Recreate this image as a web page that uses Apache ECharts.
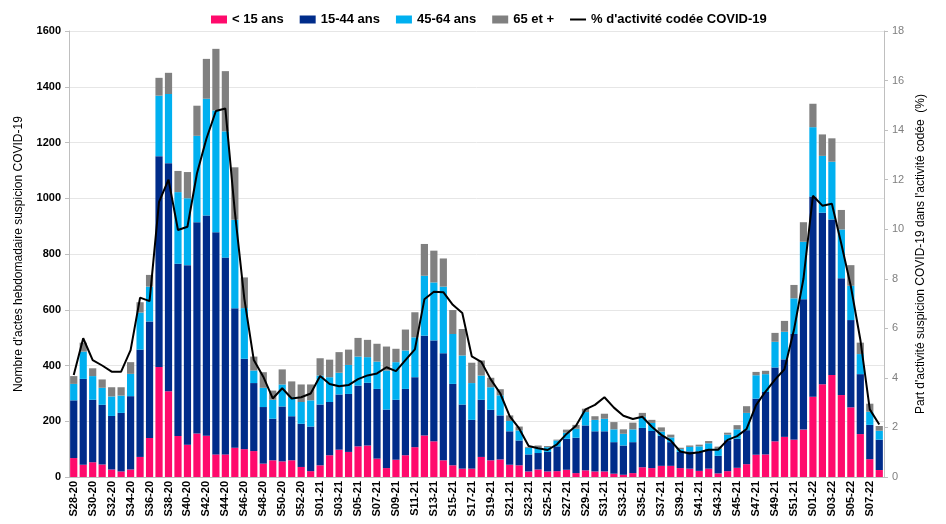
<!DOCTYPE html>
<html><head><meta charset="utf-8">
<script src="https://cdn.jsdelivr.net/npm/echarts@6/dist/echarts.min.js"></script>
<style>html,body{margin:0;padding:0;background:#fff}#c{width:946px;height:524px}</style>
</head><body><div id="c"></div>
<script>
const categories = [
 'S28-20','S29-20','S30-20','S31-20','S32-20','S33-20','S34-20','S35-20','S36-20','S37-20','S38-20','S39-20','S40-20','S41-20','S42-20','S43-20','S44-20','S45-20','S46-20','S47-20','S48-20','S49-20','S50-20','S51-20','S52-20','S53-20',
 'S01-21','S02-21','S03-21','S04-21','S05-21','S06-21','S07-21','S08-21','S09-21','S10-21','S11-21','S12-21','S13-21','S14-21','S15-21','S16-21','S17-21','S18-21','S19-21','S20-21','S21-21','S22-21','S23-21','S24-21','S25-21','S26-21',
 'S27-21','S28-21','S29-21','S30-21','S31-21','S32-21','S33-21','S34-21','S35-21','S36-21','S37-21','S38-21','S39-21','S40-21','S41-21','S42-21','S43-21','S44-21','S45-21','S46-21','S47-21','S48-21','S49-21','S50-21','S51-21','S52-21',
 'S01-22','S02-22','S03-22','S04-22','S05-22','S06-22','S07-22','S08-22'
];
const moins15 = [68,44,53,45,27,20,27,72,140,395,308,147,116,156,148,81,81,105,100,93,48,60,56,60,36,21,
 42,78,98,90,110,113,66,32,62,78,107,149,128,60,42,30,30,72,60,63,44,42,20,27,20,21,26,14,24,20,20,12,8,14,35,32,40,40,32,30,22,30,13,21,33,46,80,81,128,144,134,170,
 288,333,366,294,250,154,64,25];
const de15a44 = [207,308,224,214,192,210,263,385,418,756,818,618,644,758,790,797,706,500,324,244,203,149,197,158,155,160,
 218,191,198,208,218,225,250,210,215,238,251,358,362,384,292,230,175,205,181,158,120,89,61,59,70,89,111,127,161,144,144,113,105,111,141,133,108,85,58,62,70,70,63,111,104,122,201,224,265,278,379,468,
 718,615,558,419,313,215,123,109];
const de45a64 = [59,98,85,61,70,62,80,133,125,217,248,257,240,310,419,437,453,318,182,45,69,68,79,69,78,94,
 104,89,78,104,104,92,98,140,135,138,143,215,208,239,179,176,132,87,81,72,37,36,24,19,17,21,22,32,48,41,45,46,42,46,40,29,15,17,10,16,18,21,25,20,34,62,84,64,92,99,128,206,
 249,204,207,175,123,72,47,32];
const plus65 = [28,32,28,30,33,30,42,37,42,64,76,76,94,108,143,221,216,188,110,50,56,33,54,56,63,57,
 62,63,74,55,67,62,64,86,48,75,90,114,114,101,86,95,73,54,34,22,20,14,3,8,4,3,11,14,12,13,18,26,16,24,14,11,15,10,5,5,6,8,8,7,15,24,12,12,32,39,48,70,
 84,77,84,70,74,41,29,17];
const pctCovid = [4.12,5.6,4.72,4.5,4.25,4.25,5.12,7.24,7.1,11.1,12.0,9.97,10.1,12.25,13.65,14.77,14.87,10.7,7.2,4.72,4.05,3.17,3.58,3.17,3.22,3.37,
 4.08,3.75,3.66,3.71,3.95,4.1,4.18,4.43,4.27,4.72,5.15,7.17,7.48,7.46,6.95,6.62,4.87,4.65,3.94,3.38,2.46,1.96,1.25,1.16,1.09,1.32,1.74,2.07,2.73,2.91,3.22,2.8,2.47,2.34,2.43,2.03,1.7,1.47,1.03,0.95,1.0,1.1,1.1,1.5,1.65,1.94,2.9,3.45,3.93,4.35,5.94,8.0,
 11.35,10.95,11.03,9.4,7.7,5.55,2.73,2.12];
const leftTicks = {min:0, max:1600, interval:200};
const rightTicks = {min:0, max:18, interval:2};

const FONT = '"Liberation Sans", Arial, sans-serif';
const colors = ['#FF0A6C','#002C8A','#00B0F0','#808080'];
const names = ['< 15 ans','15-44 ans','45-64 ans','65 et +'];
const barData = [moins15, de15a44, de45a64, plus65];

const chart = echarts.init(document.getElementById('c'), null, {renderer:'canvas'});
const series = barData.map((d,i)=>({
  name: names[i], type:'bar', stack:'total', data:d, barCategoryGap:'24%',
  itemStyle:{color:colors[i]}, emphasis:{disabled:true}, animation:false
}));
series.push({
  name:"% d'activité codée COVID-19", type:'line', yAxisIndex:1, data:pctCovid,
  symbol:'none', lineStyle:{color:'#000', width:2}, itemStyle:{color:'#000'}, animation:false, z:5
});
chart.setOption({
  animation:false,
  textStyle:{fontFamily:FONT},
  legend:{
    top:8, left:206, itemGap:16, itemWidth:16, itemHeight:8,
    textStyle:{fontFamily:FONT, fontSize:13, fontWeight:'bold', color:'#000'},
    data:[
      {name:names[0], icon:'rect'},{name:names[1], icon:'rect'},{name:names[2], icon:'rect'},{name:names[3], icon:'rect'},
      {name:"% d'activité codée COVID-19", icon:'path://M0,0 L20,0 L20,2.5 L0,2.5 Z'}
    ]
  },
  grid:{left:69, right:62, top:31, bottom:47},
  xAxis:{
    type:'category', data:categories, boundaryGap:true,
    axisLine:{lineStyle:{color:'#bfbfbf'}}, axisTick:{show:false},
    axisLabel:{interval:1, rotate:90, fontFamily:FONT, fontSize:11, fontWeight:'bold', color:'#000', margin:4}
  },
  yAxis:[{
    type:'value', min:leftTicks.min, max:leftTicks.max, interval:leftTicks.interval,
    name:"Nombre d'actes hebdomadaire suspicion COVID-19", nameLocation:'middle', nameGap:44,
    nameTextStyle:{fontFamily:FONT, fontSize:12, color:'#000'},
    axisLine:{show:true, lineStyle:{color:'#bfbfbf'}}, axisTick:{show:true, length:4, lineStyle:{color:'#bfbfbf'}},
    axisLabel:{fontFamily:FONT, fontSize:11, fontWeight:'bold', color:'#000', margin:8, formatter:v=>String(v)},
    splitLine:{lineStyle:{color:'#e6e6e6'}}
  },{
    type:'value', min:rightTicks.min, max:rightTicks.max, interval:rightTicks.interval,
    name:"Part d'activité suspicion COVID-19 dans l'activité codée  (%)", nameLocation:'middle', nameGap:30, nameRotate:90,
    nameTextStyle:{fontFamily:FONT, fontSize:12, color:'#000'},
    axisLine:{show:true, lineStyle:{color:'#bfbfbf'}}, axisTick:{show:true, length:4, lineStyle:{color:'#bfbfbf'}},
    axisLabel:{fontFamily:FONT, fontSize:11, color:'#7f7f7f', margin:8, formatter:v=>String(v)},
    splitLine:{show:false}
  }],
  series:series
});
</script></body></html>
